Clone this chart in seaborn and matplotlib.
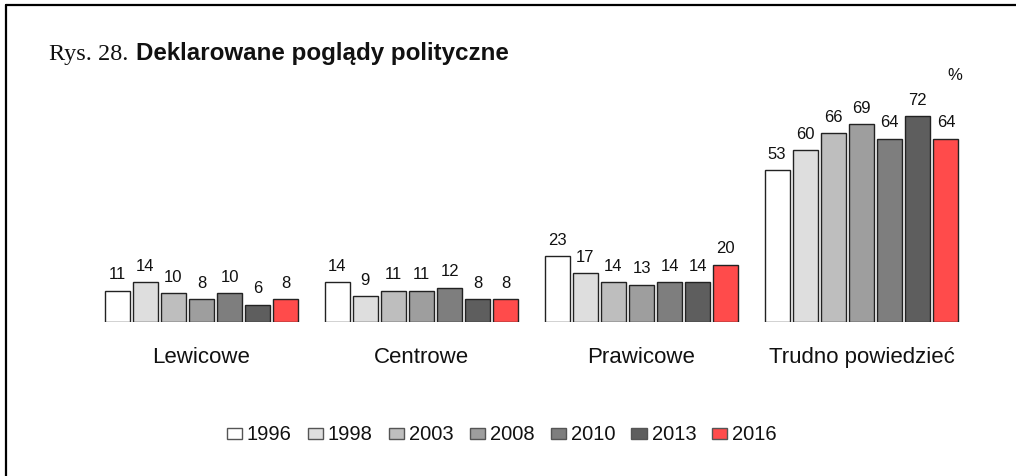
import matplotlib
matplotlib.use("Agg")
import matplotlib.pyplot as plt
from matplotlib.lines import Line2D
import seaborn as sns
import pandas as pd

categories = ["Lewicowe", "Centrowe", "Prawicowe", "Trudno powiedzieć"]
years = ["1996", "1998", "2003", "2008", "2010", "2013", "2016"]
values = {
    "1996": [11, 14, 23, 53],
    "1998": [14, 9, 17, 60],
    "2003": [10, 11, 14, 66],
    "2008": [8, 11, 13, 69],
    "2010": [10, 12, 14, 64],
    "2013": [6, 8, 14, 72],
    "2016": [8, 8, 20, 64],
}
colors = ["#FFFFFF", "#DEDEDE", "#BEBEBE", "#9E9E9E", "#7E7E7E", "#5E5E5E", "#FF4B4B"]
title_prefix = "Rys. 28."
title_main = "Deklarowane poglądy polityczne"

rows = []
for y in years:
    for c, v in zip(categories, values[y]):
        rows.append({"Kategoria": c, "Rok": y, "Wartość": v})
df = pd.DataFrame(rows)

sns.set_theme(style="white")
plt.rcParams["font.family"] = ["Liberation Sans", "DejaVu Sans"]

fig = plt.figure(figsize=(10.16, 4.76), dpi=100)
ax = fig.add_axes([91.5 / 1016, 154 / 476, 880 / 1016, 229 / 476])

sns.barplot(data=df, x="Kategoria", y="Wartość", hue="Rok", order=categories,
            hue_order=years, palette=colors, width=0.895, gap=0.11,
            edgecolor="#222222", linewidth=1.0, saturation=1, ax=ax, errorbar=None)

for cont in ax.containers:
    ax.bar_label(cont, fmt="%d", padding=6, fontsize=12, color="#111111")

ax.set_xlim(-0.5, 3.5)
ax.set_ylim(0, 80)
ax.set_xlabel("")
ax.set_ylabel("")
ax.set_yticks([])
ax.tick_params(axis="x", length=0, pad=18, labelsize=16, labelcolor="#111111")
for s in ax.spines.values():
    s.set_visible(False)

handles, labels = ax.get_legend_handles_labels()
ax.get_legend().remove()
for h in handles:
    h.set_edgecolor("#555555")
leg = fig.legend(handles, labels, loc="center", bbox_to_anchor=(0.494, 41 / 476),
                 ncol=7, frameon=False, fontsize=14.5, handlelength=0.75,
                 handleheight=0.5, handletextpad=0.25, columnspacing=0.8)
for t in leg.get_texts():
    t.set_color("#111111")

fig.text(49 / 1016, 1 - 60 / 476, title_prefix, family="Liberation Serif",
         fontsize=17.5, va="baseline", ha="left", color="#111111")
fig.text(136 / 1016, 1 - 60 / 476, title_main, family="Liberation Sans",
         fontweight="bold", fontsize=17.4, va="baseline", ha="left", color="#111111")
fig.text(955 / 1016, 1 - 75 / 476, "%", fontsize=12, ha="center", va="center",
         color="#111111")

fig.add_artist(Line2D([6 / 1016, 1.0], [1 - 5 / 476, 1 - 5 / 476],
                      transform=fig.transFigure, color="black", lw=1.6))
fig.add_artist(Line2D([6 / 1016, 6 / 1016], [0, 1 - 5 / 476],
                      transform=fig.transFigure, color="black", lw=1.6))

fig.savefig("out.png", dpi=100, facecolor="white")
